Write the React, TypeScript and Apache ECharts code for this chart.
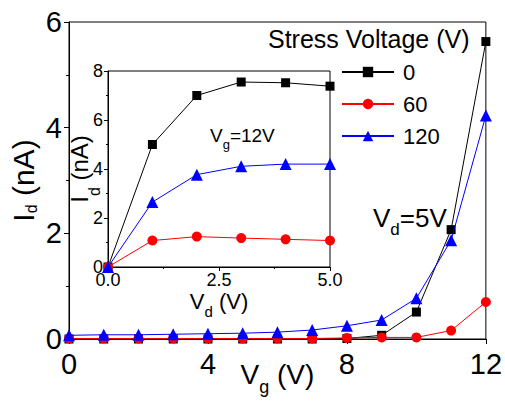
import React, { useEffect, useRef } from 'react';
import * as echarts from 'echarts';

// ---- data ----
const gateVoltage = [0, 1, 2, 3, 4, 5, 6, 7, 8, 9, 10, 11, 12];
const stressLabels = ['0', '60', '120'];
const idStress0 = [0, 0, 0, 0, 0, 0, 0, 0, 0.01, 0.07, 0.51, 2.07, 5.63];
const idStress60 = [0.01, 0.01, 0.01, 0.01, 0.01, 0.01, 0.01, 0.01, 0.02, 0.03, 0.03, 0.16, 0.7];
const idStress120 = [0.07, 0.08, 0.08, 0.09, 0.1, 0.11, 0.13, 0.17, 0.25, 0.36, 0.77, 1.87, 4.23];

const drainVoltage = [0, 1, 2, 3, 4, 5];
const insetStress0 = [0, 5.0, 7.0, 7.55, 7.52, 7.38];
const insetStress60 = [0, 1.08, 1.24, 1.18, 1.13, 1.08];
const insetStress120 = [0, 2.65, 3.77, 4.11, 4.2, 4.2];

const legendTitle = 'Stress Voltage (V)';
const insetNote = 'V_g=12V';
const mainNote = 'V_d=5V';

const FONT = '"Liberation Sans", Arial, sans-serif';
const COLORS = ['#000000', '#ff0000', '#0000ff'];
const SYMBOLS = ['rect', 'circle', 'triangle'];
const SYMBOL_SIZES = [9, 10, 12];

const zip = (xs: number[], ys: number[]) => xs.map((x, i) => [x, ys[i]]);

function subText(main: string, sub: string, rest: string) {
  return `{m|${main}}{s|${sub}}{m|${rest}}`;
}

function axisBase(labelSize: number, margin: number, tickLen: number, minorLen: number) {
  return {
    type: 'value' as const,
    axisLine: { show: true, onZero: false, lineStyle: { color: '#000', width: 1 } },
    axisTick: { show: true, inside: false, length: tickLen, lineStyle: { color: '#000', width: 1 } },
    minorTick: { show: true, splitNumber: 2, length: minorLen, lineStyle: { color: '#000', width: 1 } },
    splitLine: { show: false },
    axisLabel: { color: '#000', fontSize: labelSize, fontFamily: FONT, margin },
    nameMoveOverlap: false,
  };
}

export default function App() {
  const ref = useRef<HTMLDivElement>(null);
  useEffect(() => {
    if (!ref.current) return;
    const chart = echarts.init(ref.current, undefined, { renderer: 'svg' });
    const mainSeries = [idStress0, idStress60, idStress120];
    const insetSeries = [insetStress0, insetStress60, insetStress120];
    const series: any[] = [];
    mainSeries.forEach((d, i) => {
      series.push({
        type: 'line',
        name: stressLabels[i],
        xAxisIndex: 0,
        yAxisIndex: 0,
        data: zip(gateVoltage, d),
        symbol: SYMBOLS[i],
        symbolSize: SYMBOL_SIZES[i],
        showAllSymbol: true,
        clip: false,
        color: COLORS[i],
        itemStyle: { color: COLORS[i] },
        lineStyle: { color: COLORS[i], width: 1 },
        z: 3 + i,
      });
    });
    insetSeries.forEach((d, i) => {
      series.push({
        type: 'line',
        name: stressLabels[i],
        xAxisIndex: 1,
        yAxisIndex: 1,
        data: zip(drainVoltage, d),
        symbol: SYMBOLS[i],
        symbolSize: SYMBOL_SIZES[i],
        showAllSymbol: true,
        clip: false,
        color: COLORS[i],
        itemStyle: { color: COLORS[i] },
        lineStyle: { color: COLORS[i], width: 1 },
        z: 10 + i,
      });
    });

    const [ig, igSub] = insetNote.split('=')[0].split('_');
    const [md, mdSub] = mainNote.split('=')[0].split('_');

    chart.setOption({
      animation: false,
      backgroundColor: '#fff',
      grid: [
        { left: 69, top: 22, width: 420, height: 319, show: true, borderColor: '#000', borderWidth: 1, backgroundColor: 'transparent' },
        { left: 108, top: 71, width: 222, height: 196, show: true, borderColor: '#000', borderWidth: 1, backgroundColor: '#fff', z: 5 },
      ],
      xAxis: [
        {
          ...axisBase(29, 10, 5, 3),
          gridIndex: 0,
          min: 0,
          max: 12,
          interval: 4,
          name: subText('V', 'g', ' (V)'),
          nameLocation: 'middle',
          nameGap: 14,
          nameTextStyle: {
            rich: {
              m: { fontSize: 28, fontFamily: FONT, color: '#000' },
              s: { fontSize: 18, fontFamily: FONT, color: '#000', padding: [25, 0, 0, 0], verticalAlign: 'bottom' },
            },
          },
        },
        {
          ...axisBase(18, 4, 4, 2),
          gridIndex: 1,
          min: 0,
          max: 5,
          interval: 2.5,
          axisLabel: { color: '#000', fontSize: 18, fontFamily: FONT, margin: 4, formatter: (v: number) => v.toFixed(1) },
          name: subText('V', 'd', ' (V)'),
          nameLocation: 'middle',
          nameGap: 17,
          nameTextStyle: {
            rich: {
              m: { fontSize: 22, fontFamily: FONT, color: '#000' },
              s: { fontSize: 15, fontFamily: FONT, color: '#000', padding: [20, 0, 0, 0], verticalAlign: 'bottom' },
            },
          },
          z: 6,
        },
      ],
      yAxis: [
        {
          ...axisBase(29, 7, 5, 3),
          gridIndex: 0,
          min: 0,
          max: 6,
          interval: 2,
          name: subText('I', 'd', ' (nA)'),
          nameLocation: 'middle',
          nameRotate: 90,
          nameGap: 30,
          nameTextStyle: {
            rich: {
              m: { fontSize: 30, fontFamily: FONT, color: '#000' },
              s: { fontSize: 16, fontFamily: FONT, color: '#000', padding: [15, 0, 0, 0], verticalAlign: 'bottom' },
            },
          },
        },
        {
          ...axisBase(18, 5, 4, 2),
          gridIndex: 1,
          min: 0,
          max: 8,
          interval: 2,
          name: subText('I', 'd', ' (nA)'),
          nameLocation: 'middle',
          nameRotate: 90,
          nameGap: 6,
          nameTextStyle: {
            rich: {
              m: { fontSize: 24, fontFamily: FONT, color: '#000' },
              s: { fontSize: 16, fontFamily: FONT, color: '#000', padding: [29, 0, 0, 0], verticalAlign: 'bottom' },
            },
          },
          z: 6,
        },
      ],
      legend: {
        data: stressLabels,
        orient: 'vertical',
        left: 336,
        top: 56,
        itemWidth: 52,
        itemHeight: 13,
        itemGap: 10,
        selectedMode: false,
        textStyle: { fontSize: 22, fontFamily: FONT, color: '#000', padding: [0, 0, 0, 4] },
      },
      graphic: [
        {
          type: 'text',
          left: 268,
          top: 26,
          style: { text: legendTitle, fontSize: 25, fontFamily: FONT, fill: '#000', verticalAlign: 'middle' },
          z: 20,
        },
        {
          type: 'text',
          x: 210,
          y: 119,
          style: {
            text: subText(ig, igSub, '=' + insetNote.split('=')[1]),
            verticalAlign: 'top',
            rich: {
              m: { fontSize: 19, fontFamily: FONT, fill: '#000' },
              s: { fontSize: 13, fontFamily: FONT, fill: '#000', padding: [19, 0, 0, 0], verticalAlign: 'bottom' },
            },
          },
          z: 20,
        },
        {
          type: 'text',
          x: 373,
          y: 197,
          style: {
            text: subText(md, mdSub, '=' + mainNote.split('=')[1]),
            verticalAlign: 'top',
            rich: {
              m: { fontSize: 26, fontFamily: FONT, fill: '#000' },
              s: { fontSize: 17, fontFamily: FONT, fill: '#000', padding: [24, 0, 0, 0], verticalAlign: 'bottom' },
            },
          },
          z: 20,
        },
      ],
      series,
    });
    return () => chart.dispose();
  }, []);
  return <div ref={ref} style={{ position: 'fixed', left: 0, top: 0, width: 505, height: 401 }} />;
}
